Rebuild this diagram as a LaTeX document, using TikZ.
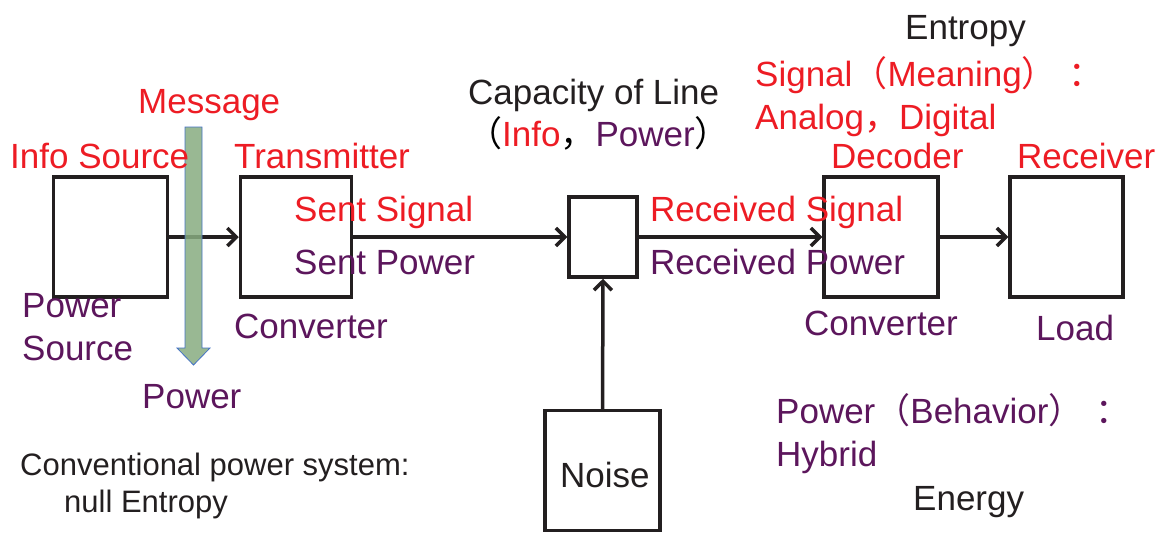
\documentclass[tikz,border=0pt]{standalone}
\usepackage{fontspec}
\setmainfont{Liberation Sans}
\newfontfamily\cjk{Noto Sans CJK SC}
\usetikzlibrary{arrows.meta}
\definecolor{myred}{RGB}{237,28,36}
\definecolor{mypurple}{RGB}{92,22,92}
\definecolor{myblack}{RGB}{35,31,32}
\definecolor{mygreen}{RGB}{135,172,128}
\definecolor{myblue}{RGB}{68,114,196}
\tikzset{
  box/.style={draw=myblack, line width=3.5pt, inner sep=0pt, fill=none},
  conn/.style={draw=myblack, line width=3.5pt, -{Straight Barb[length=9pt,width=18pt,line width=3.5pt]}},
  lbl/.style={anchor=base west, inner sep=0pt, font=\fontsize{35}{42}\selectfont},
  sml/.style={anchor=base west, inner sep=0pt, font=\fontsize{31}{37}\selectfont},
  rd/.style={text=myred},
  pp/.style={text=mypurple},
  bk/.style={text=myblack}
}
\begin{document}
\begin{tikzpicture}[x=1pt,y=-1pt]
\useasboundingbox (0,0) rectangle (1166,533);
% boxes
\node[box, minimum width=114pt, minimum height=120pt] (src) at (110.5,237) {};
\node[box, minimum width=111pt, minimum height=120pt] (tx) at (296,237) {};
\node[box, minimum width=68pt, minimum height=80pt] (ch) at (603,237) {};
\node[box, minimum width=114pt, minimum height=120pt] (dec) at (881,237) {};
\node[box, minimum width=113pt, minimum height=120pt] (rcv) at (1066.5,237) {};
\node[box, minimum width=115pt, minimum height=120pt] (noise) at (602.5,470.5) {};
% connectors
\draw[conn] (src.east) -- (tx.west);
\draw[conn] (tx.east) -- (ch.west);
\draw[conn] (ch.east) -- (dec.west);
\draw[conn] (dec.east) -- (rcv.west);
\draw[conn] (noise.north) -- (ch.south);
% green power arrow
\fill[mygreen, fill opacity=0.85] (185,127) -- (202,127) -- (202,348) -- (210,348) -- (193.5,365) -- (177,348) -- (185,348) -- cycle;
\draw[myblue, line width=0.8pt] (185,127) -- (202,127) -- (202,348) -- (210,348) -- (193.5,365) -- (177,348) -- (185,348) -- cycle;
% texts
\node[lbl,rd] (tmsg) at (138,113) {Message};
\node[lbl,rd] (tinfo) at (10,168) {Info Source};
\node[lbl,rd] (ttx) at (234,168) {Transmitter};
\node[lbl,rd] (tss) at (294,221) {Sent Signal};
\node[lbl,pp] (tsp) at (294,274) {Sent Power};
\node[lbl,pp] (tps1) at (22,317) {Power};
\node[lbl,pp] (tps2) at (22,360) {Source};
\node[lbl,pp] (tconv1) at (234,338) {Converter};
\node[lbl,pp] (tpow) at (142,408) {Power};
\node[sml,bk] (tcv1) at (20,475) {Conventional power system:};
\node[sml,bk] (tcv2) at (64,512) {null Entropy};
\node[lbl,bk] (tcap) at (468,104) {Capacity of Line};
\node[lbl] (tcap2) at (467,146) {{\cjk （}\textcolor{myred}{Info}{\cjk ，}\textcolor{mypurple}{Power}{\cjk ）}};
\node[lbl,bk] (tent) at (905,39) {Entropy};
\node[lbl,rd] (tsig) at (755,86) {Signal{\cjk （}Meaning{\cjk ）\hspace{12pt}：}};
\node[lbl,rd] (tana) at (755,129) {Analog{\cjk ，}Digital};
\node[lbl,rd] (tdec) at (831,168) {Decoder};
\node[lbl,rd] (trcv) at (1017,168) {Receiver};
\node[lbl,rd] (trs) at (650,221) {Received Signal};
\node[lbl,pp] (trp) at (650,274) {Received Power};
\node[lbl,pp] (tconv2) at (804,335) {Converter};
\node[lbl,pp] (tload) at (1036,340) {Load};
\node[lbl,pp] (tpb) at (776,423) {Power{\cjk （}Behavior{\cjk ）\hspace{12pt}：}};
\node[lbl,pp] (thyb) at (776,466) {Hybrid};
\node[lbl,bk] (tenergy) at (913,510) {Energy};
\node[lbl,bk] (tnoise) at (560,487) {Noise};
\end{tikzpicture}
\end{document}
